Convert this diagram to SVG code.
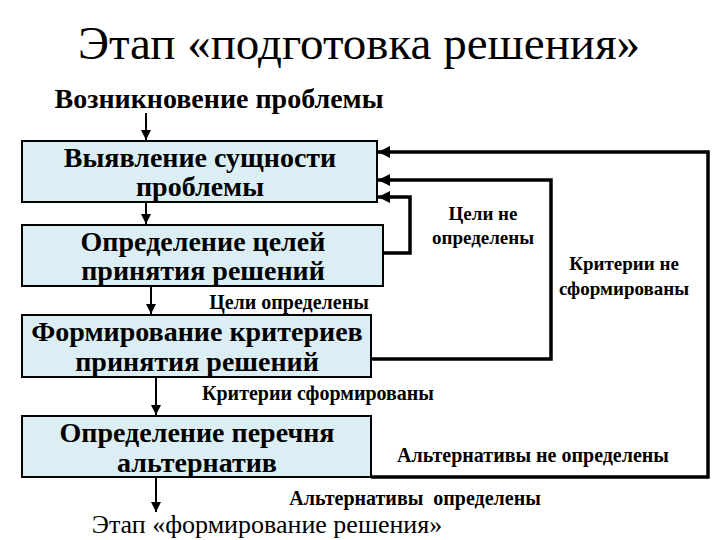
<svg xmlns="http://www.w3.org/2000/svg" width="720" height="540" viewBox="0 0 720 540">
<style>
.t{font-family:"Liberation Serif","Times New Roman",serif;fill:#000}
.b{font-weight:bold}
.box{fill:#dbeef4;stroke:#000;stroke-width:2}
.arr{stroke:#000;stroke-width:2;fill:none}
.fb{stroke:#000;stroke-width:3.5;fill:none}
.bt{font-size:28px}
.lb{font-size:20px}
</style>
<defs>
<marker id="ah" viewBox="0 0 10 10" refX="10" refY="5" markerWidth="5" markerHeight="5" markerUnits="strokeWidth" orient="auto"><path d="M0,0 L10,5 L0,10 z" fill="#000"/></marker>
<marker id="ah2" viewBox="0 0 10 10" refX="10" refY="5" markerWidth="3.5" markerHeight="3.5" markerUnits="strokeWidth" orient="auto"><path d="M0,0 L10,5 L0,10 z" fill="#000"/></marker>
</defs>
<rect width="720" height="540" fill="#fff"/>
<text class="t" x="359" y="59" font-size="47" text-anchor="middle">Этап «подготовка решения»</text>
<text class="t b" x="219" y="108" font-size="28" text-anchor="middle">Возникновение проблемы</text>

<g id="n1"><rect class="box" x="22" y="141" width="355" height="61"/>
<text class="t b bt" x="200" y="167" text-anchor="middle">Выявление сущности</text>
<text class="t b bt" x="200" y="196" text-anchor="middle">проблемы</text></g>
<g id="n2"><rect class="box" x="22" y="225" width="361" height="61"/>
<text class="t b bt" x="203" y="251" text-anchor="middle">Определение целей</text>
<text class="t b bt" x="203" y="280" text-anchor="middle">принятия решений</text></g>
<g id="n3"><rect class="box" x="22" y="315" width="349" height="62"/>
<text class="t b bt" x="197" y="341" text-anchor="middle">Формирование критериев</text>
<text class="t b bt" x="197" y="371" text-anchor="middle">принятия решений</text></g>
<g id="n4"><rect class="box" x="22" y="416" width="349" height="61"/>
<text class="t b bt" x="197" y="442" text-anchor="middle">Определение перечня</text>
<text class="t b bt" x="197" y="472" text-anchor="middle">альтернатив</text></g>

<g id="connectors">
<line class="arr" x1="146" y1="113" x2="146" y2="140" marker-end="url(#ah)"/>
<line class="arr" x1="146" y1="203" x2="146" y2="224" marker-end="url(#ah)"/>
<line class="arr" x1="151" y1="287" x2="151" y2="314" marker-end="url(#ah)"/>
<line class="arr" x1="156" y1="378" x2="156" y2="415" marker-end="url(#ah)"/>
<line class="arr" x1="156" y1="478" x2="156" y2="512" marker-end="url(#ah)"/>
<polyline class="fb" points="383,253 410,253 410,197 378,197" marker-end="url(#ah2)"/>
<polyline class="fb" points="371,359 551,359 551,180 378,180" marker-end="url(#ah2)"/>
<polyline class="fb" points="371,477 708,477 708,152 378,152" marker-end="url(#ah2)"/>
</g>

<text class="t b lb" x="289" y="309" text-anchor="middle">Цели определены</text>
<text class="t b lb" x="318" y="400" text-anchor="middle">Критерии сформированы</text>
<text class="t b lb" x="533" y="462" text-anchor="middle">Альтернативы не определены</text>
<text class="t b lb" x="415" y="505" text-anchor="middle" xml:space="preserve">Альтернативы  определены</text>
<text class="t" x="267" y="533" font-size="26" text-anchor="middle">Этап «формирование решения»</text>
<text class="t b" x="483" y="220" font-size="19" text-anchor="middle">Цели не</text>
<text class="t b" x="483" y="244" font-size="19" text-anchor="middle">определены</text>
<text class="t b" x="624" y="270" font-size="19" text-anchor="middle">Критерии не</text>
<text class="t b" x="624" y="295" font-size="19" text-anchor="middle">сформированы</text>
</svg>
